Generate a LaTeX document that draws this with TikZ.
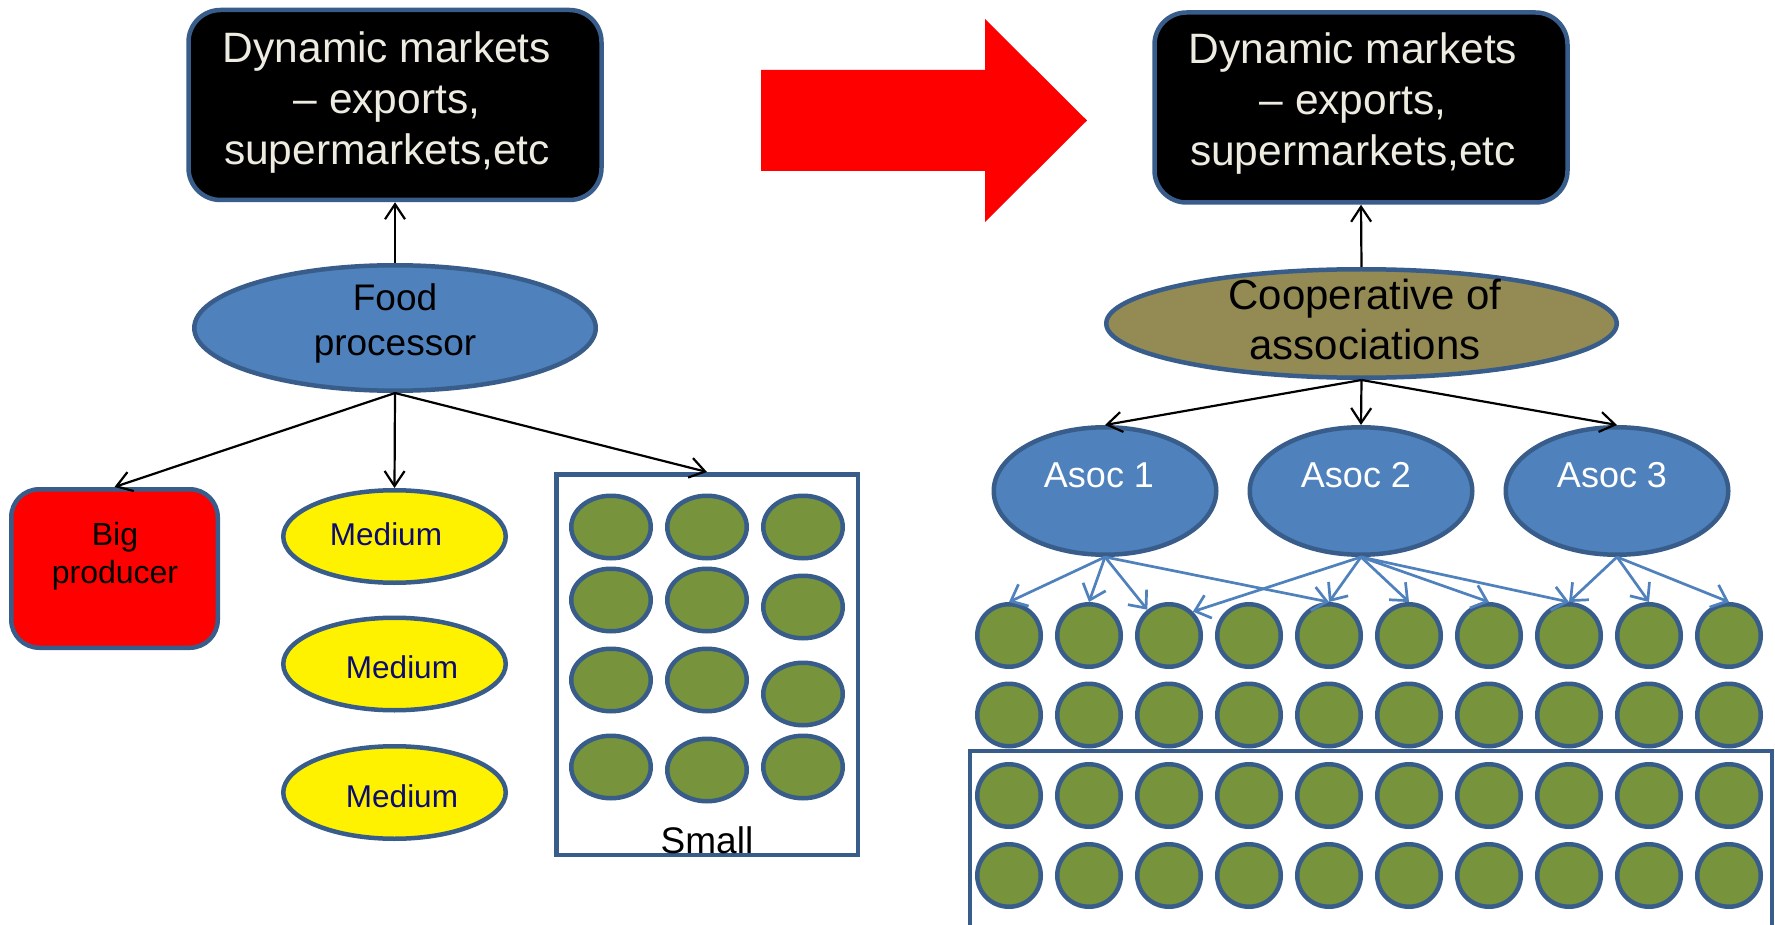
\documentclass[tikz,border=0pt]{standalone}
\usepackage{fontspec}
\setmainfont{Liberation Sans}
\usetikzlibrary{shapes.geometric,arrows.meta}
\definecolor{bord}{HTML}{385D8A}
\definecolor{accent}{HTML}{4F81BD}
\definecolor{grn}{HTML}{77933C}
\definecolor{olive}{HTML}{948A54}
\definecolor{offwhite}{HTML}{EEECE1}
\definecolor{navy}{HTML}{0C0C70}
\begin{document}
\begin{tikzpicture}[x=1pt,y=-1pt,
  bline/.style={draw=bord, line width=4.5pt, inner sep=0pt},
  mktbox/.style={bline, rectangle, fill=black, rounded corners=32pt, minimum width=413pt, minimum height=190pt},
  mkttext/.style={text=offwhite, align=center, font=\fontsize{42.5}{51}\selectfont, inner sep=0pt},
  fpell/.style={bline, ellipse, fill=accent, minimum width=401.5pt, minimum height=125.5pt},
  coopell/.style={bline, ellipse, fill=olive, minimum width=510.5pt, minimum height=108.5pt},
  asocell/.style={bline, ellipse, fill=accent, minimum width=222.5pt, minimum height=127.5pt},
  bigbox/.style={bline, rectangle, fill=red, rounded corners=28pt, minimum width=206.5pt, minimum height=158.5pt},
  medell/.style={bline, ellipse, fill=yellow, minimum width=222.5pt, minimum height=92.5pt},
  smallframe/.style={bline, rectangle, minimum width=301.5pt, minimum height=380.5pt},
  smallell/.style={bline, ellipse, fill=grn, minimum width=79.5pt, minimum height=62.5pt},
  gcirc/.style={bline, ellipse, fill=grn, minimum width=63.5pt, minimum height=62.5pt},
  blacktext/.style={text=black, align=center, inner sep=0pt},
  conn/.style={line width=2.2pt, -{Straight Barb[length=15pt,width=20pt]}},
  bconn/.style={draw=accent, line width=2.7pt, -{Straight Barb[length=14pt,width=24pt]}},
]
\useasboundingbox (0,0) rectangle (1775,925);
\fill[white] (0,0) rectangle (1775,925);

% ---------- left side ----------
\node[mktbox] (mktL) at (395,105) {};
\node[mkttext] (mktLt) at (387,103) {Dynamic markets\\ -- exports,\\ supermarkets,etc};

\node[fpell] (fp) at (395,328) {};
\node[blacktext, font=\fontsize{37}{45}\selectfont] (fpt) at (395,323) {Food\\ processor};

\node[bigbox] (big) at (114.5,568.5) {};
\node[blacktext, font=\fontsize{32}{38}\selectfont] (bigt) at (115,556) {Big\\ producer};

\node[medell] (m1) at (394.5,536.5) {};
\node[medell] (m2) at (394.5,664) {};
\node[medell] (m3) at (394.5,792.5) {};
\node[text=navy, inner sep=0pt, font=\fontsize{31.5}{38}\selectfont] (m1t) at (386,534) {Medium};
\node[text=navy, inner sep=0pt, font=\fontsize{31.5}{38}\selectfont] (m2t) at (402,667) {Medium};
\node[text=navy, inner sep=0pt, font=\fontsize{31.5}{38}\selectfont] (m3t) at (402,796) {Medium};

\node[smallframe] (sbox) at (707,664.5) {};
\node[smallell] (s11) at (611,527) {};
\node[smallell] (s12) at (707,527) {};
\node[smallell] (s13) at (803,527) {};
\node[smallell] (s21) at (611,600) {};
\node[smallell] (s22) at (707,600) {};
\node[smallell] (s23) at (803,607) {};
\node[smallell] (s31) at (611,680) {};
\node[smallell] (s32) at (707,680) {};
\node[smallell] (s33) at (803,694) {};
\node[smallell] (s41) at (611,767) {};
\node[smallell] (s42) at (707,770) {};
\node[smallell] (s43) at (803,767) {};
\node[blacktext, font=\fontsize{37}{44}\selectfont] (smallt) at (707,840) {Small};

\draw[conn] (fp.north) -- (mktL.south);
\draw[conn] (fp.south) -- (big.north);
\draw[conn] (fp.south) -- (m1.north);
\draw[conn] (fp.south) -- (sbox.north);

% ---------- big red arrow ----------
\fill[red] (761,70) -- (985,70) -- (985,19) -- (1087,120.5) -- (985,222) -- (985,171) -- (761,171) -- cycle;

% ---------- right side ----------
\node[mktbox] (mktR) at (1361,107.5) {};
\node[mkttext] (mktRt) at (1353,104) {Dynamic markets\\ -- exports,\\ supermarkets,etc};

\node[coopell] (coop) at (1361.5,323.5) {};
\node[blacktext, font=\fontsize{42}{50}\selectfont] (coopt) at (1365,319) {Cooperative of\\ associations};

\node[asocell] (a1) at (1105,491) {};
\node[asocell] (a2) at (1361,491) {};
\node[asocell] (a3) at (1617,491) {};
\node[text=white, inner sep=0pt, font=\fontsize{36}{43}\selectfont] (a1t) at (1099,475) {Asoc 1};
\node[text=white, inner sep=0pt, font=\fontsize{36}{43}\selectfont] (a2t) at (1356,475) {Asoc 2};
\node[text=white, inner sep=0pt, font=\fontsize{36}{43}\selectfont] (a3t) at (1612,475) {Asoc 3};

\draw[conn] (coop.north) -- (mktR.south);
\draw[conn] (coop.south) -- (a1.north);
\draw[conn] (coop.south) -- (a2.north);
\draw[conn] (coop.south) -- (a3.north);

\foreach \r/\yy in {1/635.5,2/715,3/795.5,4/875.5}{
  \foreach \c in {1,...,10}{
    \node[gcirc] (g\r-\c) at ({1009+80*(\c-1)},\yy) {};
  }
}
\draw[bline] (970,751) rectangle (1772,940);

\foreach \t in {1,2,5} \draw[bconn] (a1.south) -- (g1-\t.north);
\draw[bconn] (a1.south) -- (g1-3.130);
\draw[bconn] (a2.south) -- (g1-3.45);
\foreach \t in {5,6,7,8} \draw[bconn] (a2.south) -- (g1-\t.north);
\foreach \t in {8,9,10} \draw[bconn] (a3.south) -- (g1-\t.north);
\end{tikzpicture}
\end{document}
